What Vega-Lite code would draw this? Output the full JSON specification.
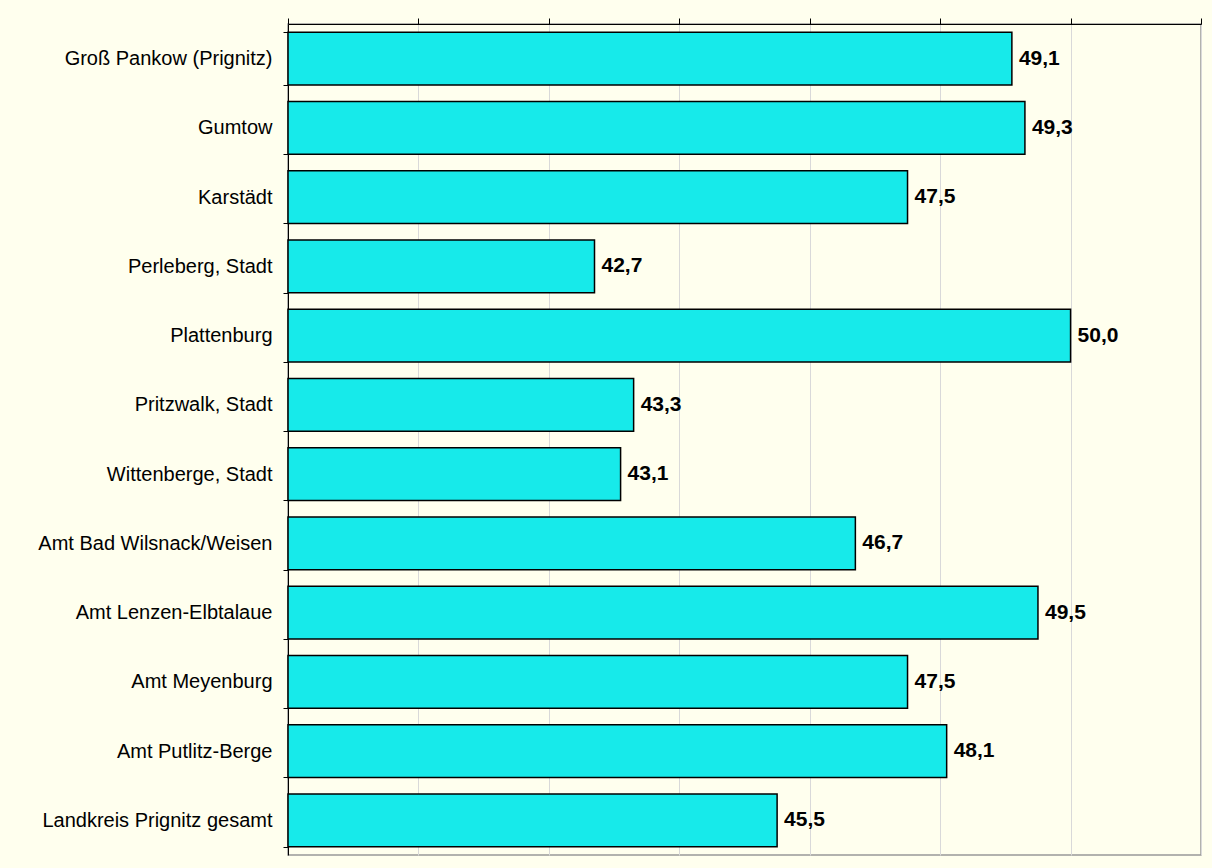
{
  "$schema": "https://vega.github.io/schema/vega-lite/v6.json",
  "autosize": {"type": "none"},
  "width": 913,
  "height": 831,
  "padding": {"left": 288, "top": 24, "right": 11, "bottom": 13},
  "background": "#FFFFEE",
  "config": {
    "locale": {"number": {"decimal": ",", "thousands": ".", "grouping": [3], "currency": ["", " €"]}},
    "view": {"fill": "#FFFFEE", "stroke": "#999999", "strokeWidth": 1.5},
    "font": "Liberation Sans"
  },
  "data": {
    "values": [
      {"gemeinde": "Groß Pankow (Prignitz)", "wert": 49.1},
      {"gemeinde": "Gumtow", "wert": 49.3},
      {"gemeinde": "Karstädt", "wert": 47.5},
      {"gemeinde": "Perleberg, Stadt", "wert": 42.7},
      {"gemeinde": "Plattenburg", "wert": 50.0},
      {"gemeinde": "Pritzwalk, Stadt", "wert": 43.3},
      {"gemeinde": "Wittenberge, Stadt", "wert": 43.1},
      {"gemeinde": "Amt Bad Wilsnack/Weisen", "wert": 46.7},
      {"gemeinde": "Amt Lenzen-Elbtalaue", "wert": 49.5},
      {"gemeinde": "Amt Meyenburg", "wert": 47.5},
      {"gemeinde": "Amt Putlitz-Berge", "wert": 48.1},
      {"gemeinde": "Landkreis Prignitz gesamt", "wert": 45.5}
    ]
  },
  "encoding": {
    "y": {
      "field": "gemeinde",
      "type": "nominal",
      "sort": null,
      "scale": {"paddingInner": 0.24, "paddingOuter": 0.12},
      "axis": {
        "title": null,
        "orient": "left",
        "domainColor": "#000000",
        "domainWidth": 1,
        "tickColor": "#000000",
        "tickSize": 5,
        "tickBand": "extent",
        "labelPadding": 11,
        "labelFontSize": 20,
        "labelColor": "#000000",
        "labelFont": "Liberation Sans",
        "labelLimit": 400
      }
    },
    "x": {
      "field": "wert",
      "type": "quantitative",
      "scale": {"domain": [38, 52], "nice": false, "zero": false},
      "axis": {
        "title": null,
        "orient": "top",
        "values": [38, 40, 42, 44, 46, 48, 50, 52],
        "labels": false,
        "tickSize": 6,
        "tickColor": "#000000",
        "domainColor": "#000000",
        "domainWidth": 1,
        "grid": true,
        "gridColor": "#D9D9D9",
        "gridWidth": 1
      }
    }
  },
  "layer": [
    {
      "mark": {"type": "bar", "fill": "#17EAEA", "stroke": "#000000", "strokeWidth": 1.5},
      "encoding": {"x2": {"datum": 38}}
    },
    {
      "mark": {"type": "text", "align": "left", "baseline": "middle", "dx": 7, "fontSize": 21, "fontWeight": "bold", "font": "Liberation Sans", "color": "#000000"},
      "encoding": {"text": {"field": "wert", "type": "quantitative", "format": ".1f"}}
    }
  ]
}
